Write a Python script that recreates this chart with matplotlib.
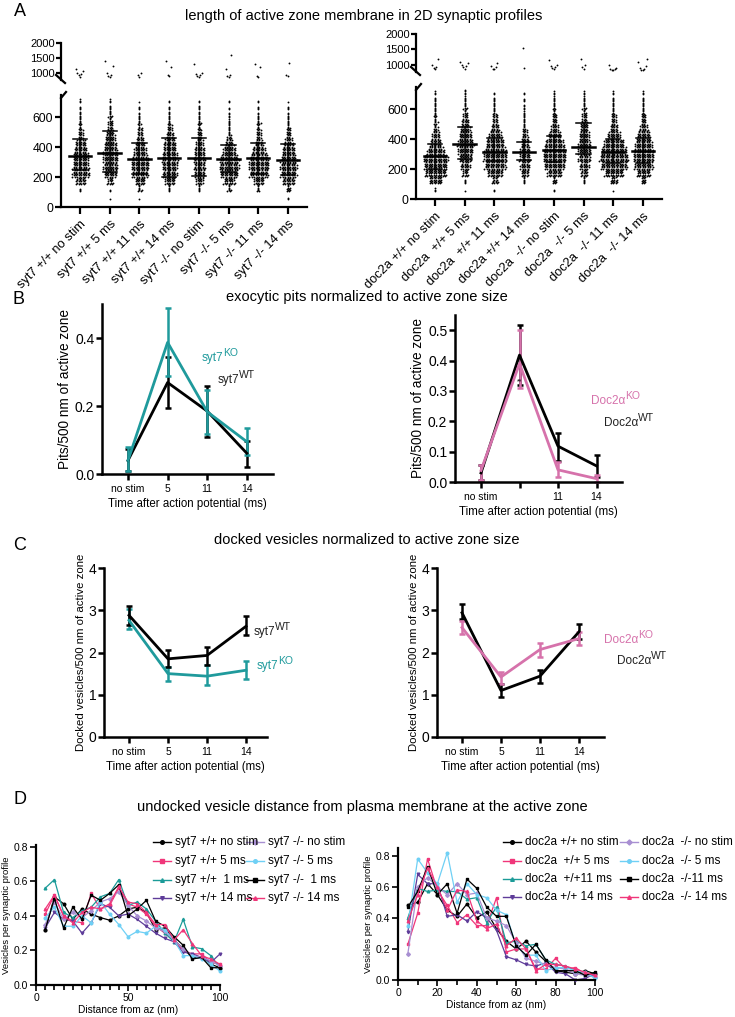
import numpy as np
import matplotlib
matplotlib.use('Agg')
import matplotlib.pyplot as plt
from matplotlib.lines import Line2D

plt.rcParams['font.family'] = ['Liberation Sans', 'DejaVu Sans']

# ---------------- data ----------------
# panel A: dot counts per 50 nm bin (50-100, 100-150, ..., 700-750), values above the break, mean and bars
A_BIN_LO = [50, 100, 150, 200, 250, 300, 350, 400, 450, 500, 550, 600, 650, 700]

syt7_groups = ['syt7 +/+ no stim', 'syt7 +/+ 5 ms', 'syt7 +/+ 11 ms', 'syt7 +/+ 14 ms',
               'syt7 -/- no stim', 'syt7 -/- 5 ms', 'syt7 -/- 11 ms', 'syt7 -/- 14 ms']
syt7_counts = [
    [0, 3, 22, 40, 38, 36, 32, 24, 12, 9, 7, 5, 3, 3],
    [1, 2, 14, 30, 34, 36, 34, 28, 22, 14, 10, 8, 4, 3],
    [1, 8, 24, 38, 42, 40, 30, 22, 14, 10, 7, 4, 3, 1],
    [0, 6, 24, 34, 36, 38, 32, 28, 20, 12, 7, 5, 3, 2],
    [0, 6, 18, 24, 26, 28, 24, 18, 12, 9, 8, 5, 4, 2],
    [0, 8, 26, 42, 46, 44, 30, 20, 10, 6, 5, 4, 2, 2],
    [0, 7, 24, 44, 48, 44, 32, 20, 12, 9, 8, 4, 3, 2],
    [2, 10, 28, 38, 40, 38, 30, 22, 14, 10, 6, 4, 3, 1],
]
syt7_high = [
    [880, 920, 960, 1010, 1060, 1120],
    [870, 900, 950, 1000, 1250, 1400],
    [880, 940, 1000],
    [900, 950, 1200, 1400],
    [870, 900, 920, 960, 1000, 1300],
    [880, 900, 950, 1150, 1600],
    [880, 900, 1200, 1300],
    [900, 920, 1350],
]
syt7_mean = [340, 362, 320, 329, 329, 322, 331, 318]
syt7_lo = [247, 235, 220, 202, 205, 235, 224, 213]
syt7_hi = [455, 509, 429, 462, 460, 413, 431, 424]

doc2a_groups = ['doc2a +/+ no stim', 'doc2a  +/+ 5 ms', 'doc2a  +/+ 11 ms', 'doc2a +/+ 14 ms',
                'doc2a  -/- no stim', 'doc2a  -/- 5 ms', 'doc2a  -/- 11 ms', 'doc2a  -/- 14 ms']
doc2a_counts = [
    [3, 30, 50, 55, 58, 40, 25, 18, 10, 8, 7, 6, 4, 3],
    [1, 4, 14, 22, 30, 36, 38, 30, 22, 16, 10, 8, 5, 4],
    [2, 14, 36, 50, 55, 52, 42, 32, 20, 12, 9, 6, 4, 2],
    [0, 6, 18, 22, 26, 24, 18, 14, 9, 6, 5, 4, 3, 2],
    [2, 10, 34, 48, 54, 52, 44, 30, 18, 12, 9, 7, 5, 3],
    [0, 6, 16, 22, 28, 30, 28, 24, 18, 14, 10, 8, 5, 3],
    [1, 16, 44, 62, 68, 60, 48, 30, 18, 12, 9, 6, 4, 3],
    [0, 12, 32, 44, 48, 46, 40, 32, 20, 12, 9, 6, 4, 3],
]
doc2a_high = [
    [880, 900, 920, 1000, 1200],
    [880, 920, 960, 1000, 1050, 1080],
    [860, 880, 920, 960, 1050],
    [900, 1550],
    [880, 900, 930, 980, 1000, 1150],
    [880, 920, 1000, 1200],
    [820, 840, 860, 880, 900, 1000],
    [820, 840, 860, 900, 950, 1100, 1200],
]
doc2a_mean = [288, 371, 316, 316, 327, 349, 316, 320]
doc2a_lo = [200, 270, 255, 260, 245, 300, 240, 240]
doc2a_hi = [370, 480, 410, 380, 420, 510, 400, 410]

# panels B and C: time points
time_labels = ['no stim', '5', '11', '14']
time_labels_doc = ['no stim', '', '11', '14']

# B: pits / 500 nm of active zone (mean, lower bar, upper bar)
pits_syt7_wt = [0.040, 0.269, 0.185, 0.061]
pits_syt7_wt_lo = [0.010, 0.193, 0.108, 0.020]
pits_syt7_wt_hi = [0.075, 0.345, 0.259, 0.098]
pits_syt7_ko = [0.040, 0.387, 0.183, 0.095]
pits_syt7_ko_lo = [0.010, 0.287, 0.118, 0.056]
pits_syt7_ko_hi = [0.080, 0.487, 0.247, 0.134]

pits_doc_wt = [0.030, 0.418, 0.118, 0.053]
pits_doc_wt_lo = [0.005, 0.320, 0.070, 0.015]
pits_doc_wt_hi = [0.057, 0.516, 0.160, 0.090]
pits_doc_ko = [0.038, 0.390, 0.040, 0.011]
pits_doc_ko_lo = [0.005, 0.308, 0.015, 0.000]
pits_doc_ko_hi = [0.055, 0.500, 0.066, 0.022]

# C: docked vesicles / 500 nm of active zone
dock_syt7_wt = [2.88, 1.85, 1.93, 2.62]
dock_syt7_wt_lo = [2.66, 1.66, 1.70, 2.41]
dock_syt7_wt_hi = [3.09, 2.07, 2.13, 2.86]
dock_syt7_ko = [2.76, 1.50, 1.44, 1.58]
dock_syt7_ko_lo = [2.56, 1.33, 1.22, 1.37]
dock_syt7_ko_hi = [3.02, 1.66, 1.70, 1.79]

dock_doc_wt = [2.94, 1.10, 1.44, 2.49]
dock_doc_wt_lo = [2.80, 0.95, 1.28, 2.33]
dock_doc_wt_hi = [3.14, 1.26, 1.58, 2.68]
dock_doc_ko = [2.59, 1.42, 2.07, 2.33]
dock_doc_ko_lo = [2.43, 1.26, 1.89, 2.17]
dock_doc_ko_hi = [2.75, 1.54, 2.22, 2.49]

# D: undocked vesicles per synaptic profile vs distance from az
dist_nm = [5, 10, 15, 20, 25, 30, 35, 40, 45, 50, 55, 60, 65, 70, 75, 80, 85, 90, 95, 100]

syt7_d_names = ['syt7 +/+ no stim', 'syt7 +/+ 5 ms', 'syt7 +/+  1 ms', 'syt7 +/+ 14 ms',
                'syt7 -/- no stim', 'syt7 -/- 5 ms', 'syt7 -/-  1 ms', 'syt7 -/- 14 ms']
syt7_d = [
    [0.32, 0.51, 0.47, 0.38, 0.44, 0.41, 0.39, 0.375, 0.40, 0.44, 0.45, 0.42, 0.32, 0.33, 0.26, 0.21, 0.16, 0.155, 0.12, 0.10],
    [0.41, 0.52, 0.40, 0.37, 0.36, 0.53, 0.44, 0.46, 0.56, 0.47, 0.45, 0.41, 0.34, 0.30, 0.26, 0.20, 0.18, 0.18, 0.13, 0.12],
    [0.56, 0.61, 0.42, 0.39, 0.43, 0.45, 0.51, 0.53, 0.61, 0.46, 0.48, 0.44, 0.37, 0.30, 0.25, 0.38, 0.22, 0.21, 0.17, 0.10],
    [0.33, 0.42, 0.38, 0.37, 0.30, 0.36, 0.47, 0.45, 0.40, 0.41, 0.38, 0.34, 0.30, 0.27, 0.25, 0.19, 0.18, 0.16, 0.13, 0.18],
    [0.35, 0.48, 0.38, 0.42, 0.39, 0.43, 0.48, 0.50, 0.54, 0.46, 0.40, 0.37, 0.33, 0.31, 0.26, 0.21, 0.17, 0.16, 0.14, 0.11],
    [0.39, 0.45, 0.34, 0.34, 0.40, 0.36, 0.48, 0.41, 0.35, 0.28, 0.31, 0.30, 0.34, 0.32, 0.26, 0.17, 0.17, 0.15, 0.12, 0.08],
    [0.32, 0.50, 0.33, 0.45, 0.38, 0.52, 0.49, 0.53, 0.58, 0.40, 0.44, 0.49, 0.37, 0.34, 0.28, 0.23, 0.15, 0.16, 0.10, 0.10],
    [0.44, 0.52, 0.40, 0.36, 0.42, 0.45, 0.44, 0.47, 0.57, 0.48, 0.47, 0.42, 0.35, 0.35, 0.26, 0.32, 0.24, 0.17, 0.15, 0.12],
]

doc2a_d_names = ['doc2a +/+ no stim', 'doc2a  +/+ 5 ms', 'doc2a  +/+11 ms', 'doc2a +/+ 14 ms',
                 'doc2a  -/- no stim', 'doc2a  -/- 5 ms', 'doc2a  -/-11 ms', 'doc2a  -/- 14 ms']
doc2a_d = [
    [0.48, 0.50, 0.62, 0.55, 0.45, 0.41, 0.49, 0.40, 0.44, 0.33, 0.25, 0.20, 0.25, 0.18, 0.12, 0.06, 0.05, 0.04, 0.06, 0.04],
    [0.23, 0.43, 0.78, 0.58, 0.48, 0.37, 0.42, 0.35, 0.35, 0.53, 0.18, 0.20, 0.20, 0.07, 0.07, 0.14, 0.07, 0.08, 0.04, 0.03],
    [0.40, 0.59, 0.57, 0.58, 0.57, 0.57, 0.52, 0.53, 0.37, 0.47, 0.24, 0.25, 0.22, 0.23, 0.13, 0.10, 0.09, 0.06, 0.03, 0.02],
    [0.31, 0.68, 0.62, 0.62, 0.41, 0.42, 0.38, 0.44, 0.40, 0.32, 0.15, 0.13, 0.10, 0.09, 0.11, 0.05, 0.04, 0.00, 0.01, 0.04],
    [0.17, 0.60, 0.66, 0.60, 0.55, 0.62, 0.55, 0.56, 0.40, 0.38, 0.35, 0.24, 0.14, 0.12, 0.10, 0.08, 0.07, 0.04, 0.03, 0.02],
    [0.35, 0.78, 0.69, 0.62, 0.82, 0.50, 0.62, 0.55, 0.53, 0.45, 0.42, 0.22, 0.16, 0.16, 0.06, 0.08, 0.08, 0.06, 0.05, 0.01],
    [0.47, 0.57, 0.73, 0.55, 0.62, 0.43, 0.65, 0.59, 0.47, 0.41, 0.41, 0.22, 0.16, 0.23, 0.13, 0.06, 0.06, 0.06, 0.03, 0.05],
    [0.38, 0.55, 0.72, 0.60, 0.45, 0.58, 0.57, 0.38, 0.33, 0.36, 0.22, 0.27, 0.20, 0.06, 0.10, 0.10, 0.09, 0.07, 0.05, 0.03],
]

# ---------------- styles ----------------
TEAL = '#1f9a9c'
ORCHID = '#d672ab'
D_COLORS = ['#000000', '#f0367a', '#1b9b98', '#5e3c99', '#a88fd2', '#6fd0f5', '#000000', '#f0367a']
D_MARKERS = ['o', 's', '^', 'v', 'D', 'o', 's', '^']

W, H = 735, 1017
fig = plt.figure(figsize=(W / 100, H / 100), dpi=100)
renderer = fig.canvas.get_renderer()


def add_ax(l, t, r, b):
    # axes box given in pixels of the reference (left, top, right, bottom)
    return fig.add_axes([l / W, 1 - b / H, (r - l) / W, (b - t) / H])


def ftext(x, y, s, **kw):
    return fig.text(x / W, 1 - y / H, s, **kw)


def fline(xs, ys, **kw):
    fig.add_artist(Line2D([x / W for x in xs], [1 - y / H for y in ys], **kw))


def sup_label(x, y, base, sup, color, size=8.5):
    t = ftext(x, y, base, fontsize=size, color=color, va='center', ha='left')
    bb = t.get_window_extent(renderer)
    ftext(bb.x1 - 0.5, y - 5, sup, fontsize=size - 1, color=color, va='center', ha='left')


def style(ax, lw=1.6):
    for s in ['top', 'right']:
        ax.spines[s].set_visible(False)
    for s in ['left', 'bottom']:
        ax.spines[s].set_linewidth(lw)
    ax.tick_params(width=lw, length=4, labelsize=7.5, pad=1.5)


def panel_a(box_bot, box_top, names, counts, high, mean, lo, hi):
    l, tb, r, bb = box_bot
    ax = add_ax(*box_bot)
    axt = add_ax(box_top[0], box_top[1], r, box_top[3])
    n = len(names)
    left = -0.64
    ax.set_xlim(left, left + (r - l) / 29.7)
    axt.set_xlim(ax.get_xlim())
    dx = 0.085
    rows = 6
    for i in range(n):
        xs, ys = [], []
        for b, c in zip(A_BIN_LO, counts[i]):
            for rr in range(rows):
                k = c // rows + (1 if rr < c % rows else 0)
                if k == 0:
                    continue
                off = (np.arange(k) - (k - 1) / 2) * dx + (dx / 2 if rr % 2 else 0) * (k > 1)
                xs.extend(i + off)
                ys.extend([b + (rr + 0.5) * 50 / rows] * k)
        ax.scatter(xs, ys, s=1.8, color='black', linewidths=0, zorder=2)
        hv = high[i]
        hx = [i + ((-1) ** j) * 0.05 * ((j + 1) // 2) for j in range(len(hv))]
        axt.scatter(hx, hv, s=1.8, color='black', linewidths=0)
        ax.plot([i - 0.38, i + 0.38], [mean[i]] * 2, color='black', lw=1.8, zorder=3)
        ax.plot([i, i], [lo[i], hi[i]], color='black', lw=1.1, zorder=3)
        for v in (lo[i], hi[i]):
            ax.plot([i - 0.24, i + 0.24], [v, v], color='black', lw=1.1, zorder=3)
    ax.set_ylim(0, 750)
    ax.set_yticks([0, 200, 400, 600])
    ax.set_xticks(range(n))
    style(ax)
    ax.set_xticklabels(names, rotation=45, ha='right', va='top', rotation_mode='anchor')
    ax.tick_params(axis='y', labelsize=8.8)
    ax.tick_params(axis='x', length=5, pad=3, labelsize=9.3)
    axt.set_ylim(770, 2000)
    axt.set_yticks([1000, 1500, 2000])
    style(axt)
    axt.spines['bottom'].set_visible(False)
    axt.tick_params(axis='x', bottom=False, labelbottom=False)
    axt.tick_params(axis='y', labelsize=8, length=3.5, pad=1)
    # axis break marks
    fline([l - 5, l + 4], [box_top[3] - 5, box_top[3] + 3], color='black', lw=1.6)
    fline([l, l + 5], [tb + 3, tb - 3], color='black', lw=1.6)


def line_panel(box, cat0, step, ylim, yticks, yfmt, xlabels, series, ylabel, ylsize):
    l, t, r, b = box
    ax = add_ax(*box)
    ax.set_xlim((l - cat0) / step, (r - cat0) / step)
    ax.set_ylim(*ylim)
    x = np.arange(4)
    for y, ylo, yhi, c in series:
        y = np.array(y)
        ax.errorbar(x, y, yerr=[y - np.array(ylo), np.array(yhi) - y], color=c, lw=2,
                    elinewidth=1.8, capsize=2.5, capthick=1.8, clip_on=False)
    ax.set_xticks(x)
    ax.set_xticklabels(xlabels)
    ax.set_yticks(yticks)
    ax.set_yticklabels([yfmt.format(v) for v in yticks])
    style(ax, 1.8)
    ax.tick_params(axis='y', labelsize=10)
    ax.tick_params(axis='x', pad=3, labelsize=7.5)
    ax.set_xlabel('Time after action potential (ms)', fontsize=8.3, labelpad=3)
    ax.set_ylabel(ylabel, fontsize=ylsize, labelpad=2)
    return ax


def d_panel(box, major, minor, ylim, names, data, legend_x, legend_rows):
    ax = add_ax(*box)
    for k, (nm, ys) in enumerate(zip(names, data)):
        ax.plot(dist_nm, ys, color=D_COLORS[k], lw=0.9, marker=D_MARKERS[k], ms=1.9,
                clip_on=False)
    ax.set_xlim(0, 100)
    ax.set_ylim(*ylim)
    ax.set_xticks(range(0, 101, major))
    ax.set_xticks(range(0, 101, minor), minor=True)
    ax.set_yticks([0, 0.2, 0.4, 0.6, 0.8])
    ax.set_yticklabels(['0.0', '0.2', '0.4', '0.6', '0.8'])
    style(ax, 1.6)
    ax.tick_params(axis='both', labelsize=7.5, length=4, width=1.2)
    ax.tick_params(axis='x', which='minor', length=3.5, width=1.2)
    ax.set_xlabel('Distance from az (nm)', fontsize=7.3, labelpad=2)
    ax.set_ylabel('Vesicles per synaptic profile', fontsize=6.8, labelpad=2)
    # legend drawn in two columns
    for k, nm in enumerate(names):
        col, row = divmod(k, 4)
        x0 = legend_x[col]
        y0 = legend_rows[row]
        fline([x0, x0 + 18], [y0, y0], color=D_COLORS[k], lw=1.0)
        fline([x0 + 9], [y0], color=D_COLORS[k], marker=D_MARKERS[k], ms=2.6, lw=0)
        ftext(x0 + 22, y0, nm, fontsize=8.5, va='center', ha='left')
    return ax


# ---------------- panel A ----------------
ftext(20, 12, 'A', fontsize=13, va='center', ha='center')
ftext(364, 16, 'length of active zone membrane in 2D synaptic profiles', fontsize=10.5, va='center', ha='center')
panel_a((61, 95, 307, 207), (61, 43, 307, 80), syt7_groups, syt7_counts, syt7_high,
        syt7_mean, syt7_lo, syt7_hi)
panel_a((416, 87, 662, 199), (416, 34, 662, 72), doc2a_groups, doc2a_counts, doc2a_high,
        doc2a_mean, doc2a_lo, doc2a_hi)

# ---------------- panel B ----------------
ftext(18, 300, 'B', fontsize=13, va='center', ha='center')
ftext(367, 297, 'exocytic pits normalized to active zone size', fontsize=10.5, va='center', ha='center')
line_panel((102, 304, 273, 474), 128, 39.6, (0, 0.5), [0.0, 0.2, 0.4], '{:.1f}', time_labels,
           [(pits_syt7_wt, pits_syt7_wt_lo, pits_syt7_wt_hi, 'black'),
            (pits_syt7_ko, pits_syt7_ko_lo, pits_syt7_ko_hi, TEAL)],
           'Pits/500 nm of active zone', 9.8)
sup_label(202, 358, 'syt7', 'KO', TEAL)
sup_label(218, 380, 'syt7', 'WT', '#222222')

axb = line_panel((455, 315, 622, 482), 481, 38.5, (0, 0.55), [0.0, 0.1, 0.2, 0.3, 0.4, 0.5], '{:.1f}',
                 time_labels_doc,
                 [(pits_doc_wt, pits_doc_wt_lo, pits_doc_wt_hi, 'black'),
                  (pits_doc_ko, pits_doc_ko_lo, pits_doc_ko_hi, ORCHID)],
                 'Pits/500 nm of active zone', 9.8)
axb.text(1, 0.33, '**', fontsize=5, ha='center', va='center')
sup_label(591, 401, 'Doc2α', 'KO', ORCHID)
sup_label(604, 423, 'Doc2α', 'WT', '#222222')

# ---------------- panel C ----------------
ftext(20, 545, 'C', fontsize=13, va='center', ha='center')
ftext(367, 540, 'docked vesicles normalized to active zone size', fontsize=10.5, va='center', ha='center')
line_panel((104, 568, 267, 737), 129, 39, (0, 4), [0, 1, 2, 3, 4], '{:d}', time_labels,
           [(dock_syt7_ko, dock_syt7_ko_lo, dock_syt7_ko_hi, TEAL),
            (dock_syt7_wt, dock_syt7_wt_lo, dock_syt7_wt_hi, 'black')],
           'Docked vesicles/500 nm of active zone', 8.2)
sup_label(254, 632, 'syt7', 'WT', '#222222')
sup_label(257, 666, 'syt7', 'KO', TEAL)

line_panel((437, 568, 604, 737), 462, 39, (0, 4), [0, 1, 2, 3, 4], '{:d}', time_labels,
           [(dock_doc_wt, dock_doc_wt_lo, dock_doc_wt_hi, 'black'),
            (dock_doc_ko, dock_doc_ko_lo, dock_doc_ko_hi, ORCHID)],
           'Docked vesicles/500 nm of active zone', 8.2)
sup_label(604, 640, 'Doc2α', 'KO', ORCHID)
sup_label(617, 661, 'Doc2α', 'WT', '#222222')

# ---------------- panel D ----------------
ftext(20, 799, 'D', fontsize=13, va='center', ha='center')
ftext(362, 807, 'undocked vesicle distance from plasma membrane at the active zone', fontsize=10.5,
      va='center', ha='center')
d_panel((36, 845, 220, 985), 50, 5, (0, 0.81), syt7_d_names, syt7_d,
        [153, 246], [842, 861, 880, 898])
d_panel((398, 848, 595, 980), 20, 10, (0, 0.85), doc2a_d_names, doc2a_d,
        [503, 620], [842, 861, 879, 897])

fig.savefig('out.png', dpi=100)
